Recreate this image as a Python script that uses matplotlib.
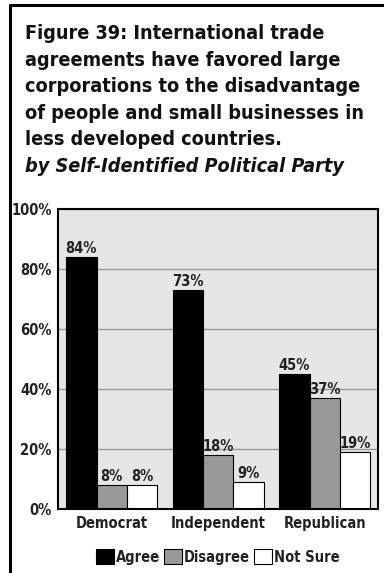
import matplotlib
matplotlib.use('Agg')
import matplotlib.pyplot as plt
from matplotlib import font_manager as fm
from matplotlib.patches import Patch
from matplotlib.lines import Line2D

# ---------------- data ----------------
categories = ['Democrat', 'Independent', 'Republican']
series_names = ['Agree', 'Disagree', 'Not Sure']
agree = [84, 73, 45]
disagree = [8, 18, 37]
not_sure = [8, 9, 19]
yticks = [0, 20, 40, 60, 80, 100]
ytick_labels = ['0%', '20%', '40%', '60%', '80%', '100%']
title_lines = [
    'Figure 39: International trade',
    'agreements have favored large',
    'corporations to the disadvantage',
    'of people and small businesses in',
    'less developed countries.',
]
subtitle = 'by Self-Identified Political Party'

# ---------------- fonts ----------------
names = {f.name for f in fm.fontManager.ttflist}
if 'Liberation Sans Narrow' in names:
    FAM, STR = 'Liberation Sans Narrow', 'normal'
else:
    FAM, STR = 'DejaVu Sans', 'condensed'
plt.rcParams['font.family'] = [FAM, 'DejaVu Sans']
plt.rcParams['font.stretch'] = STR

W, H = 384, 573
fig = plt.figure(figsize=(W / 100, H / 100), dpi=100)
fig.patch.set_facecolor('white')

def fx(px):
    return px / W

def fy(py):
    return 1 - py / H

# frame lines (top and left)
fig.add_artist(Line2D([fx(9), 1], [fy(5), fy(5)], color='black', lw=2.2,
                      transform=fig.transFigure, solid_capstyle='butt'))
fig.add_artist(Line2D([fx(10), fx(10)], [fy(4), 0], color='black', lw=2.2,
                      transform=fig.transFigure, solid_capstyle='butt'))

# title
tsize = 14.2
pitch = 26.6
for i, line in enumerate(title_lines):
    fig.text(fx(25), fy(39 + pitch * i), line, fontsize=tsize, fontweight='bold',
             ha='left', va='baseline', color='#111111')
fig.text(fx(25), fy(39 + pitch * 5), subtitle, fontsize=tsize, fontweight='bold',
         fontstyle='italic', ha='left', va='baseline', color='#111111')

# axes
ax = fig.add_axes([fx(58), fy(509), (378 - 58) / W, 300 / H])
ax.set_facecolor('#e6e6e6')
ax.set_xlim(-0.505, 2.5)
ax.set_ylim(0, 100)
ax.set_axisbelow(True)
ax.yaxis.grid(True, color='#9a9a9a', lw=1.0)

w = 0.286
colors = ['black', '#999999', 'white']
series = [agree, disagree, not_sure]
lsize = 10.5
for j, (vals, col) in enumerate(zip(series, colors)):
    xs = [i + (j - 1) * w for i in range(len(categories))]
    ax.bar(xs, vals, width=w, color=col, edgecolor='black', linewidth=0.8)
    for x, v in zip(xs, vals):
        ax.annotate(f'{v}%', (x, v), xytext=(0, 1), textcoords='offset points',
                    ha='center', va='bottom', fontsize=lsize, fontweight='bold',
                    color='#222222')

ax.set_yticks(yticks)
ax.set_yticklabels(ytick_labels, fontsize=lsize, fontweight='bold', color='#222222')
ax.set_xticks(range(len(categories)))
ax.set_xticklabels(categories, fontsize=lsize, fontweight='bold', color='#222222')
ax.tick_params(length=0)
ax.tick_params(axis='y', pad=4.5)
ax.tick_params(axis='x', pad=5)
for s in ax.spines.values():
    s.set_linewidth(1.5)
    s.set_color('black')

handles = [Patch(facecolor=c, edgecolor='black', linewidth=0.8) for c in colors]
fig.legend(handles, series_names, ncol=3, loc='center',
           bbox_to_anchor=(fx(218), fy(557)), frameon=False,
           handlelength=1.2, handleheight=1.2, handletextpad=0.15,
           columnspacing=0.3, prop={'size': lsize, 'weight': 'bold'},
           labelcolor='#222222', borderpad=0, borderaxespad=0)

fig.savefig('out.png', dpi=100, facecolor='white')
